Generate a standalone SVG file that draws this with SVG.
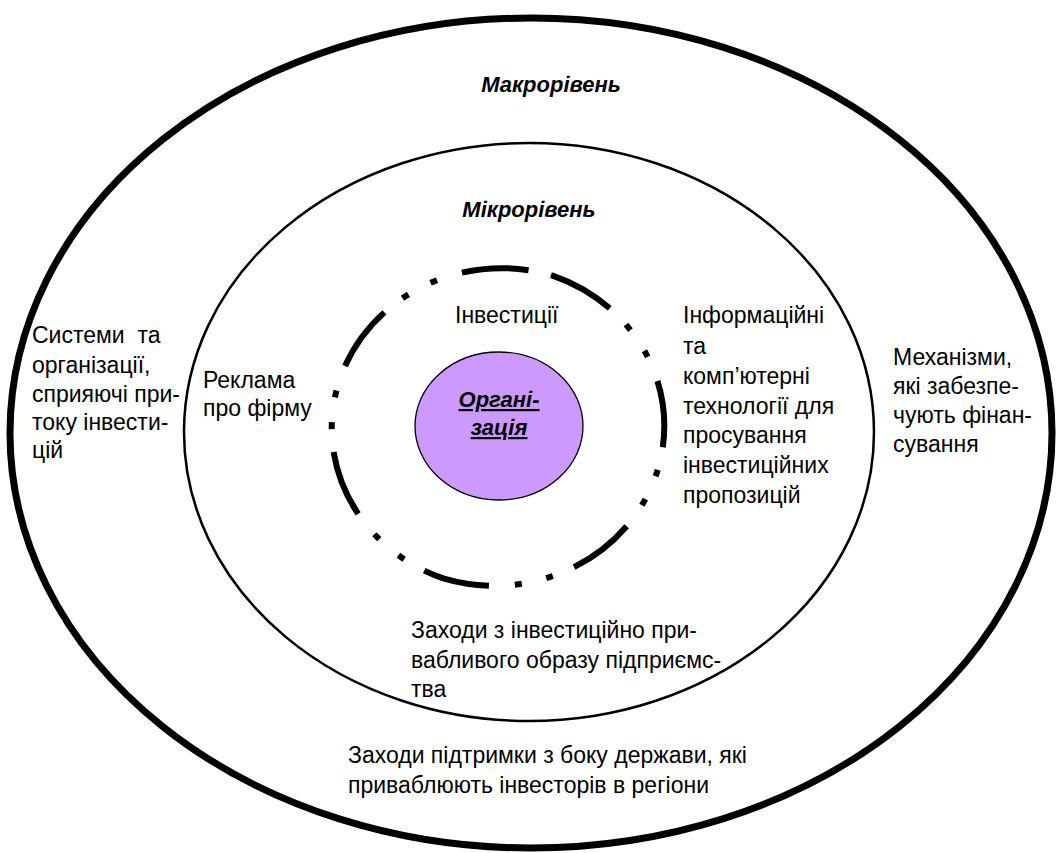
<svg xmlns="http://www.w3.org/2000/svg" width="1058" height="853" viewBox="0 0 1058 853">
<style>
  text { font-family: "Liberation Sans", Arial, sans-serif; font-size: 23px; fill: #000; }
  .lvl { font-weight: bold; font-style: italic; font-size: 22px; text-anchor: middle; }
  .org { font-weight: bold; font-style: italic; font-size: 22px; text-anchor: middle; text-decoration: underline; }
  .outer { fill: none; stroke: #000; stroke-width: 7; }
  .inner { fill: none; stroke: #000; stroke-width: 2.5; }
  .dash { fill: none; stroke: #000; stroke-width: 6; stroke-linecap: butt; stroke-dasharray: 67 23 7 25 7 26; }
  .core { fill: #cc99ff; stroke: #000; stroke-width: 1.3; }
</style>
<rect width="1058" height="853" fill="#fff"/>
<g id="macro">
  <ellipse class="outer" cx="531" cy="433" rx="521" ry="415"/>
  <text class="lvl" x="551" y="92">Макрорівень</text>
</g>
<g id="micro">
  <ellipse class="inner" cx="529" cy="432" rx="345" ry="289"/>
  <text class="lvl" x="529" y="217">Мікрорівень</text>
</g>
<g id="investments">
  <path class="dash" d="M 551.9 275.3 A 170 160 0 0 1 444.1 578.7 A 170 160 0 0 1 551.9 275.3"/>
  <text x="455" y="323">Інвестиції</text>
</g>
<g id="organization">
  <ellipse class="core" cx="499" cy="426" rx="84" ry="74"/>
  <text class="org" x="499" y="407">Органі-</text>
  <text class="org" x="499" y="435">зація</text>
</g>
<g id="systems">
  <text x="32" y="343" xml:space="preserve">Системи  та</text>
  <text x="32" y="373">організації,</text>
  <text x="32" y="402">сприяючі при-</text>
  <text x="32" y="430">току інвести-</text>
  <text x="32" y="458">цій</text>
</g>
<g id="advert">
  <text x="203" y="388">Реклама</text>
  <text x="203" y="416">про фірму</text>
</g>
<g id="it">
  <text x="683" y="323">Інформаційні</text>
  <text x="683" y="354">та</text>
  <text x="683" y="384">комп’ютерні</text>
  <text x="683" y="414">технології для</text>
  <text x="683" y="443">просування</text>
  <text x="683" y="473">інвестиційних</text>
  <text x="683" y="503">пропозицій</text>
</g>
<g id="mechanisms">
  <text x="893" y="365">Механізми,</text>
  <text x="893" y="394">які забезпе-</text>
  <text x="893" y="423">чують фінан-</text>
  <text x="893" y="452">сування</text>
</g>
<g id="image">
  <text x="411" y="638">Заходи з інвестиційно при-</text>
  <text x="411" y="668">вабливого образу підприємс-</text>
  <text x="411" y="697">тва</text>
</g>
<g id="state">
  <text x="348" y="763">Заходи підтримки з боку держави, які</text>
  <text x="348" y="793">приваблюють інвесторів в регіони</text>
</g>
<g id="connectors"></g>
</svg>
